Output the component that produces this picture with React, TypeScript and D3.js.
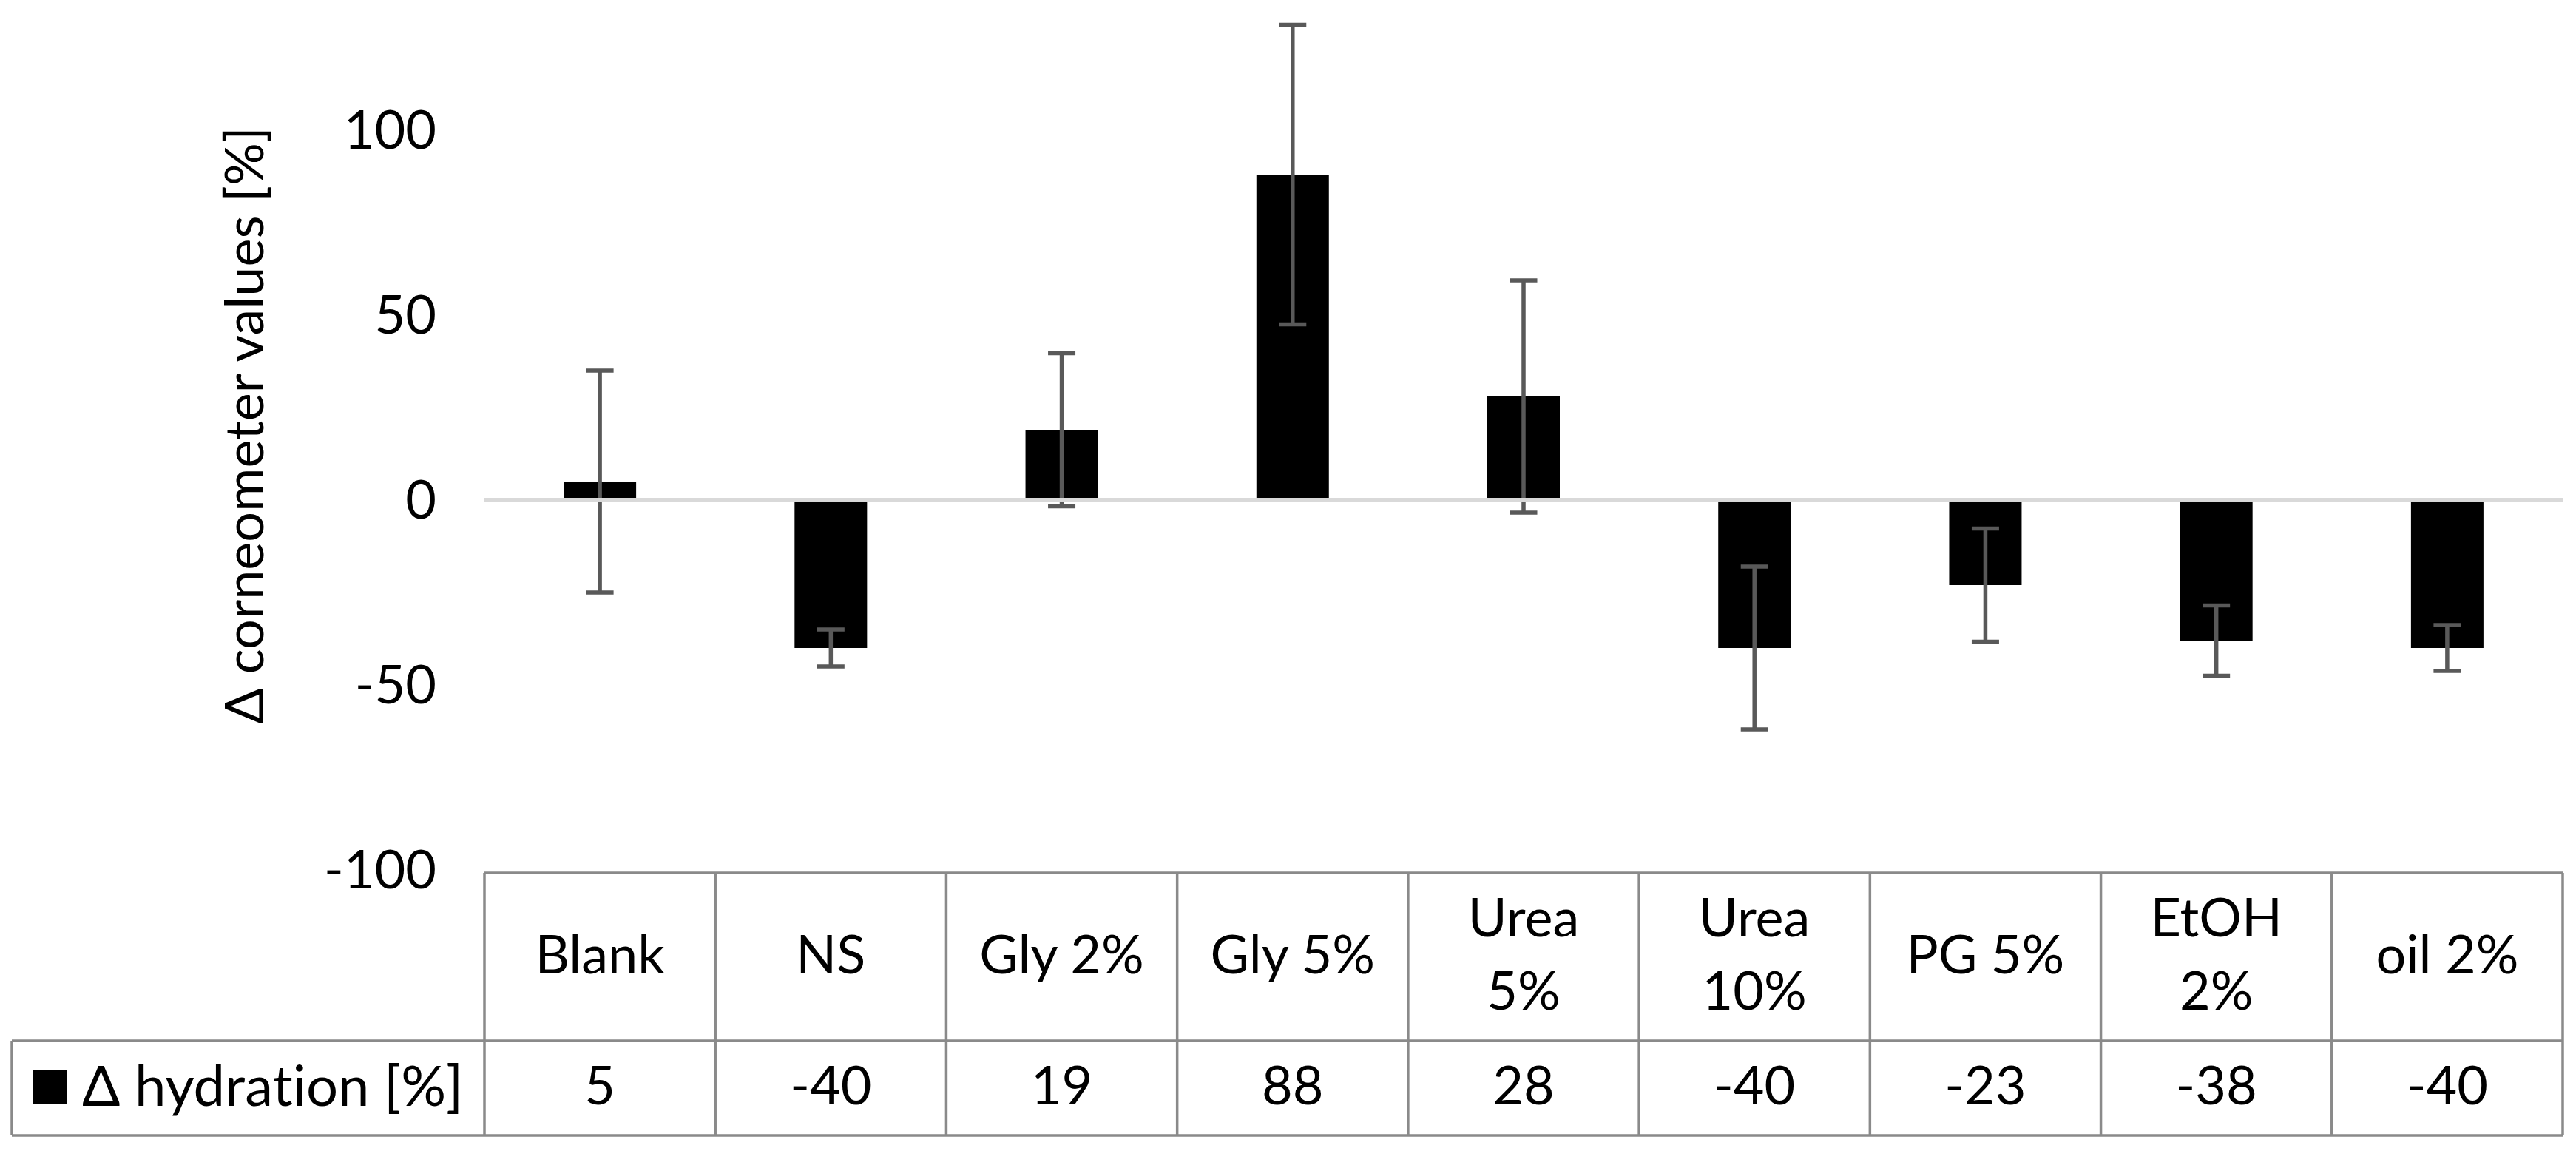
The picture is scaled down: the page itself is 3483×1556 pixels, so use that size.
import React from "react";
import * as d3 from "d3";

// data
const categories = ["Blank", "NS", "Gly 2%", "Gly 5%", "Urea 5%", "Urea 10%", "PG 5%", "EtOH 2%", "oil 2%"];
const headerLines = [["Blank"], ["NS"], ["Gly 2%"], ["Gly 5%"], ["Urea", "5%"], ["Urea", "10%"], ["PG 5%"], ["EtOH", "2%"], ["oil 2%"]];
const hydration = [5, -40, 19, 88, 28, -40, -23, -38, -40];
const errors = [30, 5, 20.7, 40.5, 31.4, 22, 15.3, 9.5, 6.2];
const yTicks = [-100, -50, 0, 50, 100];
const seriesName = "Δ hydration [%]";
const yTitle = "Δ corneometer values [%]";

const W = 3483;
const H = 1556;
const FONT = "Lato, 'Open Sans', sans-serif";
const FS = 72;

export default function App() {
  // plot / table geometry
  const left = 655;
  const right = 3465;
  const headTop = 1180;
  const rowTop = 1407;
  const rowBottom = 1535;
  const legendLeft = 16;

  const x = d3.scaleBand().domain(categories).range([left, right]).padding(0);
  const y = d3.scaleLinear().domain([-100, 135]).range([1176, 1]);

  const barW = 98;
  const capW = 37;
  const bw = x.bandwidth();
  const lineColor = "#8a8a8a";

  return (
    <svg
      width={W}
      height={H}
      style={{ position: "absolute", left: 0, top: 0, display: "block", background: "#fff", fontVariantLigatures: "none" }}
      fontFamily={FONT}
      fontSize={FS}
    >
      <rect x={0} y={0} width={W} height={H} fill="#fff" />

      {/* y axis title */}
      <text
        transform={`translate(356,${575}) rotate(-90)`}
        textAnchor="middle"
        fill="#000"
      >
        {yTitle}
      </text>

      {/* y tick labels */}
      {yTicks.map((t) => (
        <text key={t} x={590} y={y(t)} dy="0.35em" textAnchor="end" fill="#000">
          {t}
        </text>
      ))}

      {/* bars */}
      {categories.map((c, i) => {
        const v = hydration[i];
        const cx = (x(c) as number) + bw / 2;
        return (
          <rect
            key={c}
            x={cx - barW / 2}
            y={Math.min(y(v), y(0))}
            width={barW}
            height={Math.abs(y(v) - y(0))}
            fill="#000"
          />
        );
      })}

      {/* error bars */}
      {categories.map((c, i) => {
        const v = hydration[i];
        const e = errors[i];
        const cx = (x(c) as number) + bw / 2;
        return (
          <g key={c} stroke="#595959" strokeWidth={5.5}>
            <line x1={cx} x2={cx} y1={y(v + e)} y2={y(v - e)} />
            <line x1={cx - capW / 2} x2={cx + capW / 2} y1={y(v + e)} y2={y(v + e)} />
            <line x1={cx - capW / 2} x2={cx + capW / 2} y1={y(v - e)} y2={y(v - e)} />
          </g>
        );
      })}

      {/* zero line */}
      <line x1={left} x2={right} y1={y(0)} y2={y(0)} stroke="#d9d9d9" strokeWidth={6} />

      {/* data table */}
      <g stroke={lineColor} strokeWidth={3.5} fill="none">
        <line x1={left} x2={right} y1={headTop} y2={headTop} />
        <line x1={legendLeft} x2={right} y1={rowTop} y2={rowTop} />
        <line x1={legendLeft} x2={right} y1={rowBottom} y2={rowBottom} />
        <line x1={legendLeft} x2={legendLeft} y1={rowTop} y2={rowBottom} />
        {categories.map((c) => (
          <line key={c} x1={x(c)} x2={x(c)} y1={headTop} y2={rowBottom} />
        ))}
        <line x1={right} x2={right} y1={headTop} y2={rowBottom} />
      </g>

      {/* header labels */}
      {categories.map((c, i) => {
        const cx = (x(c) as number) + bw / 2;
        const lines = headerLines[i];
        const mid = (headTop + rowTop) / 2 - 3;
        const lh = 99;
        return (
          <text key={c} textAnchor="middle" fill="#000">
            {lines.map((l, j) => (
              <tspan key={j} x={cx} y={mid + (j - (lines.length - 1) / 2) * lh} dy="0.35em">
                {l}
              </tspan>
            ))}
          </text>
        );
      })}

      {/* data row values */}
      {categories.map((c, i) => (
        <text
          key={c}
          x={(x(c) as number) + bw / 2}
          y={(rowTop + rowBottom) / 2 - 3}
          dy="0.35em"
          textAnchor="middle"
          fill="#000"
        >
          {hydration[i]}
        </text>
      ))}

      {/* legend key */}
      <rect x={45} y={1446} width={45} height={46} fill="#000" />
      <text x={111} y={(rowTop + rowBottom) / 2 - 3} dy="0.35em" fontSize={76} fill="#000">
        {seriesName}
      </text>
    </svg>
  );
}
